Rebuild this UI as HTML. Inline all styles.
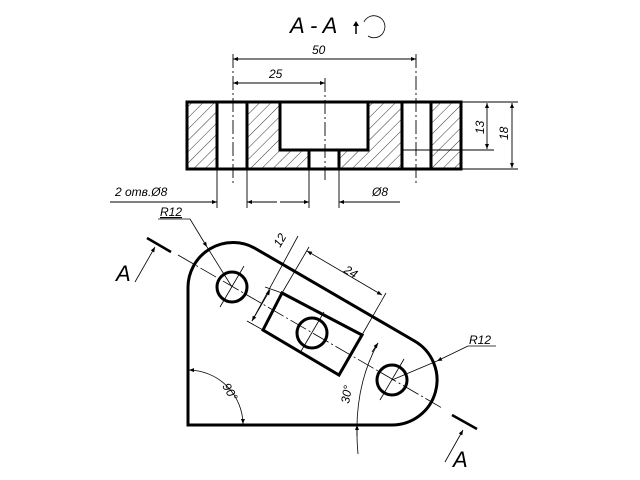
<!DOCTYPE html>
<html><head><meta charset="utf-8"><style>
html,body{margin:0;padding:0;background:#fff}
svg{display:block}
text{font-family:"Liberation Sans","Noto Sans CJK SC",sans-serif;font-style:italic;fill:#000}
</style></head><body>
<svg width="640" height="480" viewBox="0 0 640 480" xmlns="http://www.w3.org/2000/svg">
<defs>
<pattern id="h" width="8" height="8" patternUnits="userSpaceOnUse" patternTransform="rotate(45)">
<line x1="0" y1="0" x2="0" y2="8" stroke="#000" stroke-width="0.8"/>
</pattern>
<marker id="ar" viewBox="0 0 10 10" refX="10" refY="5" markerWidth="9" markerHeight="5" orient="auto-start-reverse" markerUnits="userSpaceOnUse">
<path d="M0,1 L10,5 L0,9 Z" fill="#000"/>
</marker>
</defs>
<!-- title -->
<text x="290" y="33" font-size="22">A - A</text>
<path d="M353,26 l3,-5 l3,5" fill="#000"/>
<line x1="356" y1="24" x2="356" y2="34" stroke="#000" stroke-width="1.5"/>
<path d="M364,22 A11,11 0 1 1 368,36" fill="none" stroke="#000" stroke-width="0.8"/>

<!-- section view hatch -->
<g fill="url(#h)" stroke="none">
<rect x="187" y="102" width="30" height="67"/>
<polygon points="247,102 280,102 280,150 309,150 309,169 247,169"/>
<polygon points="368,102 402,102 402,169 339,169 339,150 368,150"/>
<rect x="431" y="102" width="30" height="67"/>
</g>
<g stroke="#000" stroke-width="3" fill="none">
<rect x="187" y="102" width="274" height="67"/>
<line x1="217" y1="102" x2="217" y2="169"/>
<line x1="247" y1="102" x2="247" y2="169"/>
<line x1="402" y1="102" x2="402" y2="169"/>
<line x1="431" y1="102" x2="431" y2="169"/>
<polyline points="280,102 280,150 368,150 368,102"/>
<line x1="309" y1="150" x2="309" y2="169"/>
<line x1="339" y1="150" x2="339" y2="169"/>
</g>
<g stroke="#000" stroke-width="0.9" fill="none">
<line x1="233" y1="54" x2="233" y2="183" stroke-dasharray="14,3,2,3"/>
<line x1="325" y1="78" x2="325" y2="183" stroke-dasharray="14,3,2,3"/>
<line x1="416" y1="54" x2="416" y2="183" stroke-dasharray="14,3,2,3"/>
<line x1="233" y1="59" x2="416" y2="59" marker-start="url(#ar)" marker-end="url(#ar)"/>
<line x1="233" y1="83" x2="325" y2="83" marker-start="url(#ar)" marker-end="url(#ar)"/>
<line x1="461" y1="102" x2="518" y2="102"/>
<line x1="461" y1="169" x2="518" y2="169"/>
<line x1="402" y1="150" x2="494" y2="150"/>
<line x1="487" y1="103" x2="487" y2="149" marker-start="url(#ar)" marker-end="url(#ar)"/>
<line x1="512" y1="103" x2="512" y2="168" marker-start="url(#ar)" marker-end="url(#ar)"/>
<line x1="217" y1="169" x2="217" y2="208"/>
<line x1="247" y1="169" x2="247" y2="208"/>
<line x1="309" y1="169" x2="309" y2="208"/>
<line x1="339" y1="169" x2="339" y2="208"/>
<line x1="110" y1="202" x2="217" y2="202" marker-end="url(#ar)"/>
<line x1="247" y1="202" x2="277" y2="202" marker-start="url(#ar)"/>
<line x1="280" y1="202" x2="309" y2="202" marker-end="url(#ar)"/>
<line x1="339" y1="202" x2="400" y2="202" marker-start="url(#ar)"/>
</g>
<text x="312" y="54" font-size="12">50</text>
<text x="269" y="78" font-size="12">25</text>
<text x="484" y="134" font-size="12" transform="rotate(-90 484 134)">13</text>
<text x="508" y="140" font-size="12" transform="rotate(-90 508 140)">18</text>
<text x="115" y="196" font-size="12">2 отв.Ø8</text>
<text x="372" y="196" font-size="12">Ø8</text>

<!-- plan view -->
<path d="M188,425 L188,287 A45,45 0 0 1 254.5,248 L414.5,341 A45,45 0 0 1 392,425 Z" fill="none" stroke="#000" stroke-width="3"/>
<polygon points="282,293 362,335 339,375 263,330" fill="none" stroke="#000" stroke-width="3"/>
<g fill="none" stroke="#000" stroke-width="3">
<circle cx="232" cy="287" r="15"/>
<circle cx="312" cy="333" r="15"/>
<circle cx="392" cy="380" r="15"/>
</g>
<g stroke="#000" stroke-width="0.8" fill="none">
<line x1="178" y1="255" x2="442" y2="408" stroke-dasharray="18,3,2,3"/>
<line x1="220" y1="307" x2="244" y2="266"/>
<line x1="300" y1="353" x2="324" y2="312"/>
<line x1="380" y1="400" x2="404" y2="359"/>
<line x1="282" y1="293" x2="309" y2="247"/>
<line x1="362" y1="335" x2="386" y2="293"/>
<line x1="307" y1="251" x2="382" y2="295" marker-start="url(#ar)" marker-end="url(#ar)"/>
<line x1="263" y1="330" x2="247" y2="321"/>
<line x1="282" y1="293" x2="265" y2="287"/>
<line x1="252" y1="321" x2="298" y2="236" />
<line x1="270" y1="290" x2="252" y2="321" marker-start="url(#ar)" marker-end="url(#ar)"/>
<line x1="158" y1="219" x2="190" y2="219"/>
<line x1="190" y1="219" x2="207" y2="247" marker-end="url(#ar)"/>
<line x1="207" y1="247" x2="232" y2="287"/>
<line x1="468" y1="346" x2="496" y2="346"/>
<line x1="468" y1="346" x2="437" y2="361" marker-end="url(#ar)"/>
<line x1="437" y1="361" x2="392" y2="380"/>
<path d="M189,370 A55,55 0 0 1 243,424" marker-start="url(#ar)" marker-end="url(#ar)"/>
<path d="M378,343 Q352,390 358,454"/>
<path d="M372,352 L378,343" marker-end="url(#ar)"/>
<path d="M357,436 L357,425" marker-end="url(#ar)"/>
<line x1="135" y1="282" x2="155" y2="247" marker-end="url(#ar)"/>
<line x1="445" y1="462" x2="463" y2="430" marker-end="url(#ar)"/>
</g>
<line x1="147" y1="238" x2="171" y2="252" stroke="#000" stroke-width="2.5"/>
<line x1="452" y1="415" x2="477" y2="429" stroke="#000" stroke-width="2.5"/>
<text x="116" y="281" font-size="22">A</text>
<text x="453" y="467" font-size="22">A</text>
<text x="160" y="216" font-size="12" text-decoration="underline">R12</text>
<text x="469" y="344" font-size="12">R12</text>
<text x="343" y="272" font-size="12" transform="rotate(30 343 272)">24</text>
<text x="280" y="248" font-size="12" transform="rotate(-60 280 248)">12</text>
<text x="222" y="386" font-size="12" transform="rotate(60 222 386)">90°</text>
<text x="349" y="404" font-size="12" transform="rotate(-80 349 404)">30°</text>
</svg>
</body></html>
